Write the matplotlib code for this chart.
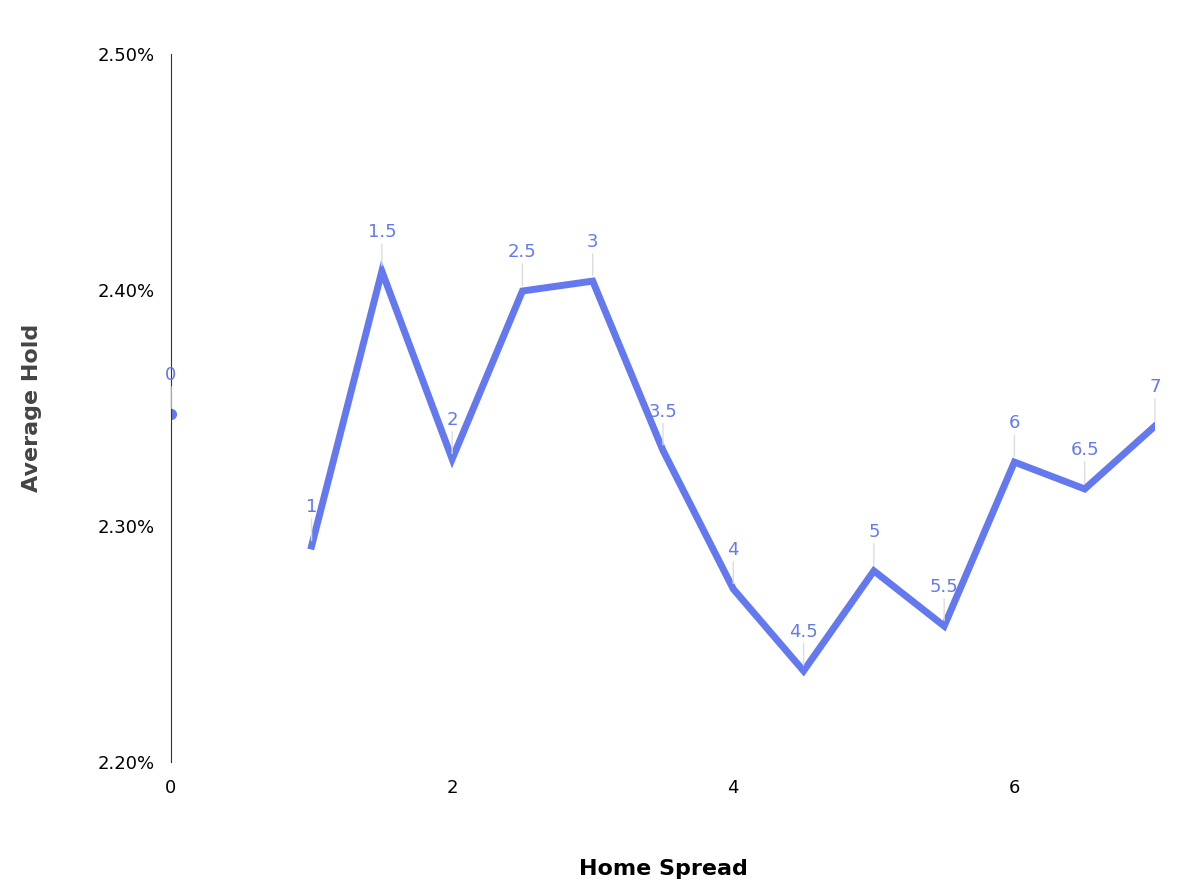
import matplotlib
matplotlib.use("Agg")
import matplotlib.pyplot as plt
from matplotlib.ticker import FuncFormatter

spread = [0, 1, 1.5, 2, 2.5, 3, 3.5, 4, 4.5, 5, 5.5, 6, 6.5, 7]
hold = [2.3475, 2.2915, 2.408, 2.3284, 2.3996, 2.4038, 2.332, 2.2733, 2.2386, 2.281, 2.2576, 2.3271, 2.3157, 2.3424]
labels = ["0", "1", "1.5", "2", "2.5", "3", "3.5", "4", "4.5", "5", "5.5", "6", "6.5", "7"]

color = "#6479F0"
fig = plt.figure(figsize=(12, 8.96), dpi=100)
ax = fig.add_axes([0.1425, 0.1496, 0.82, 0.790])
ax.plot(spread[1:], hold[1:], color=color, lw=5, solid_joinstyle="miter")
ax.plot(spread[0], hold[0], "o", color=color, ms=7)
for x, y, l in zip(spread, hold, labels):
    ax.annotate(l, (x, y), xytext=(0, 30), textcoords="offset points" if False else "offset pixels",
                ha="center", va="bottom", color=color, fontsize=13,
                arrowprops=dict(arrowstyle="-", color="#dddddd", lw=1, shrinkA=0, shrinkB=4))
ax.set_xlim(0, 7)
ax.set_ylim(2.2, 2.5)
ax.set_yticks([2.2, 2.3, 2.4, 2.5])
ax.yaxis.set_major_formatter(FuncFormatter(lambda v, p: f"{v:.2f}%"))
ax.set_xticks([0, 2, 4, 6])
for s in ["top", "right", "bottom"]:
    ax.spines[s].set_visible(False)
ax.spines["left"].set_color("#333333")
ax.tick_params(length=0, labelsize=13, pad=12)
ax.set_xlabel("Home Spread", fontsize=16, fontweight="bold", labelpad=45)
ax.set_ylabel("Average Hold", fontsize=16, fontweight="bold", color="#444444", labelpad=40)
fig.savefig("out.png")
